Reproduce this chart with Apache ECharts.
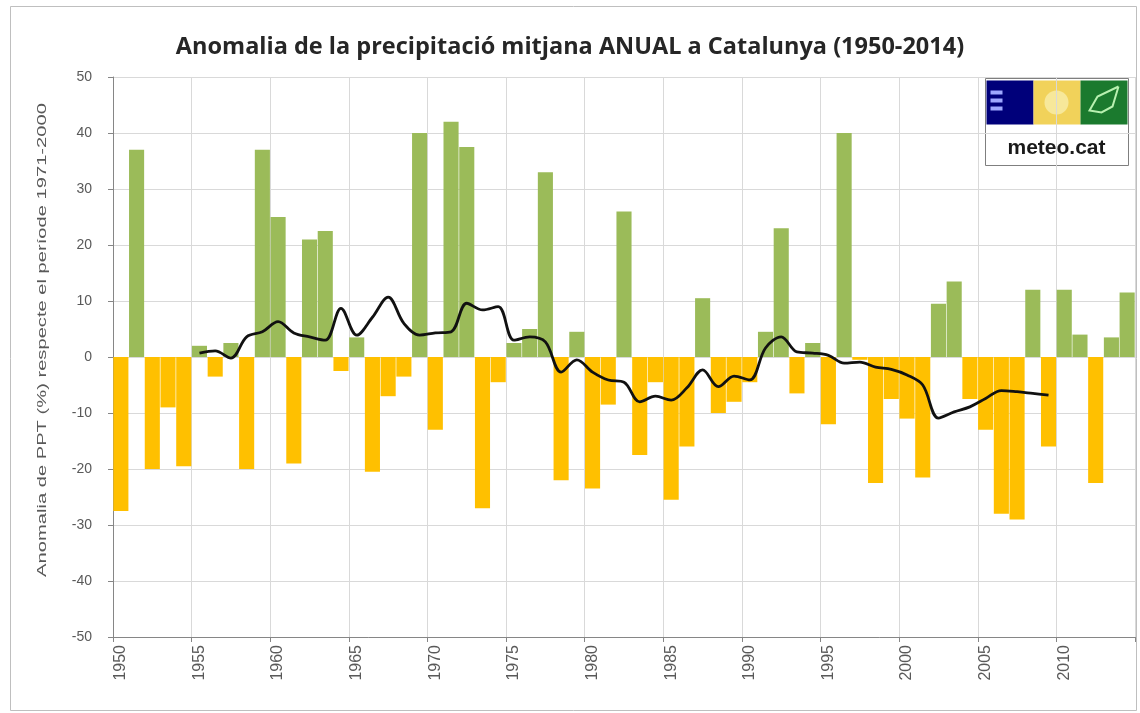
<!DOCTYPE html>
<html>
<head>
<meta charset="utf-8">
<script src="https://cdn.jsdelivr.net/npm/echarts@6/dist/echarts.min.js"></script>
<style>
html,body{margin:0;padding:0;background:#fff;}
#chart{width:1140px;height:713px;}
</style>
</head>
<body>
<div id="chart"></div>
<script>
var titleText = 'Anomalia de la precipitació mitjana ANUAL a Catalunya (1950-2014)';
var yAxisName = 'Anomalia de PPT (%) respecte el període 1971-2000';
var years = [];
for (var y = 1950; y <= 2014; y++) years.push(String(y));

var anomaly = [
  -27.5, 37, -20, -9, -19.5,      // 1950-1954
  2, -3.5, 2.5, -20, 37,          // 1955-1959
  25, -19, 21, 22.5, -2.5,        // 1960-1964
  3.5, -20.5, -7, -3.5, 40,       // 1965-1969
  -13, 42, 37.5, -27, -4.5,       // 1970-1974
  2.5, 5, 33, -22, 4.5,           // 1975-1979
  -23.5, -8.5, 26, -17.5, -4.5,   // 1980-1984
  -25.5, -16, 10.5, -10, -8,      // 1985-1989
  -4.5, 4.5, 23, -6.5, 2.5,       // 1990-1994
  -12, 40, -0.5, -22.5, -7.5,     // 1995-1999
  -11, -21.5, 9.5, 13.5, -7.5,    // 2000-2004
  -13, -28, -29, 12, -16,         // 2005-2009
  12, 4, -22.5, 3.5, 11.5         // 2010-2014
];

var smoothed = [
  null, null, null, null, null,   // 1950-1954
  0.7, 1.1, -0.2, 3.6, 4.5,       // 1955-1959
  6.3, 4.3, 3.6, 3.0, 8.7,        // 1960-1964
  3.9, 7.1, 10.7, 6.0, 3.9,       // 1965-1969
  4.3, 4.5, 9.6, 8.4, 9.0,        // 1970-1974
  3.0, 3.6, 2.7, -2.7, -0.5,      // 1975-1979
  -2.7, -4.1, -4.5, -8.0, -7.0,   // 1980-1984
  -7.7, -5.5, -2.3, -5.3, -3.4,   // 1985-1989
  -4.1, 1.6, 3.6, 0.9, 0.7,       // 1990-1994
  0.3, -1.1, -0.9, -1.8, -2.2,    // 1995-1999
  -3.2, -5.0, -10.9, -9.8, -8.9,  // 2000-2004
  -7.4, -6.0, -6.2, -6.5, -6.8,   // 2005-2009
  null, null, null, null, null    // 2010-2014
];

var yTicks = { min: -50, max: 50, interval: 10 };

var GREEN = '#9BBB59', ORANGE = '#FFC000', GREY = '#595959';
var chart = echarts.init(document.getElementById('chart'));
chart.setOption({
  backgroundColor: '#ffffff',
  animation: false,
  title: {
    text: titleText, left: 'center', top: 30,
    textStyle: { fontFamily: 'Open Sans', fontWeight: 'bold', fontSize: 23.5, color: '#262626' }
  },
  grid: { left: 113, right: 5, top: 77, bottom: 76 },
  xAxis: {
    type: 'category', data: years, boundaryGap: true,
    axisLine: { onZero: false, lineStyle: { color: '#868686' } },
    axisTick: { show: true, interval: 4, alignWithLabel: false, lineStyle: { color: '#868686' } },
    axisLabel: { interval: 4, rotate: 90, margin: 8, color: GREY, fontSize: 16, fontFamily: 'Liberation Sans' },
    splitLine: { show: true, interval: 4, lineStyle: { color: '#d9d9d9' } }
  },
  yAxis: {
    type: 'value', min: yTicks.min, max: yTicks.max, interval: yTicks.interval,
    axisLine: { show: true, lineStyle: { color: '#868686' } },
    axisTick: { show: true, length: 5, lineStyle: { color: '#868686' } },
    axisLabel: { color: GREY, fontSize: 14, margin: 21, fontFamily: 'Liberation Sans' },
    splitLine: { show: true, lineStyle: { color: '#d9d9d9' } }
  },
  series: [
    {
      type: 'bar', data: anomaly, barCategoryGap: '4%',
      itemStyle: { color: function (p) { return p.value >= 0 ? GREEN : ORANGE; } }
    },
    {
      type: 'line', data: smoothed, smooth: 0.35, symbol: 'none', connectNulls: false,
      lineStyle: { color: '#111111', width: 2.8 }, z: 5
    }
  ],
  graphic: [
    { type: 'rect', left: 8, top: 4, shape: { width: 1126, height: 704 },
      style: { fill: 'none', stroke: '#bfbfbf', lineWidth: 1 }, silent: true },
    { type: 'text', x: 42, y: 340, rotation: Math.PI / 2, scaleX: 1.55, scaleY: 1,
      style: { text: yAxisName, align: 'center', verticalAlign: 'middle',
        font: '13px "Liberation Sans"', fill: GREY } },
    { type: 'group', left: 985, top: 78, children: [
      { type: 'rect', shape: { x: 0, y: 0, width: 143, height: 87 }, style: { fill: '#ffffff', stroke: '#7f7f7f', lineWidth: 1 } },
      { type: 'rect', shape: { x: 1, y: 2, width: 47, height: 44 }, style: { fill: '#00007a' } },
      { type: 'rect', shape: { x: 5, y: 12, width: 12, height: 4 }, style: { fill: '#9fa8ff' } },
      { type: 'rect', shape: { x: 5, y: 20, width: 12, height: 4 }, style: { fill: '#9fa8ff' } },
      { type: 'rect', shape: { x: 5, y: 28, width: 12, height: 4 }, style: { fill: '#9fa8ff' } },
      { type: 'rect', shape: { x: 48, y: 2, width: 47, height: 44 }, style: { fill: '#f1d25a' } },
      { type: 'circle', shape: { cx: 71, cy: 24, r: 12 }, style: { fill: '#f7e89a' } },
      { type: 'rect', shape: { x: 95, y: 2, width: 47, height: 44 }, style: { fill: '#1b7a2e' } },
      { type: 'polyline', shape: { points: [[133, 8], [112, 18], [104, 32], [116, 34], [127, 28], [133, 8]] },
        style: { stroke: '#b8f0b0', fill: 'none', lineWidth: 2 } },
      { type: 'text', style: { x: 71, y: 70, text: 'meteo.cat', align: 'center', verticalAlign: 'middle',
        font: 'bold 21px "Liberation Sans"', fill: '#1a1a1a' } }
    ] }
  ]
});
</script>
</body>
</html>
